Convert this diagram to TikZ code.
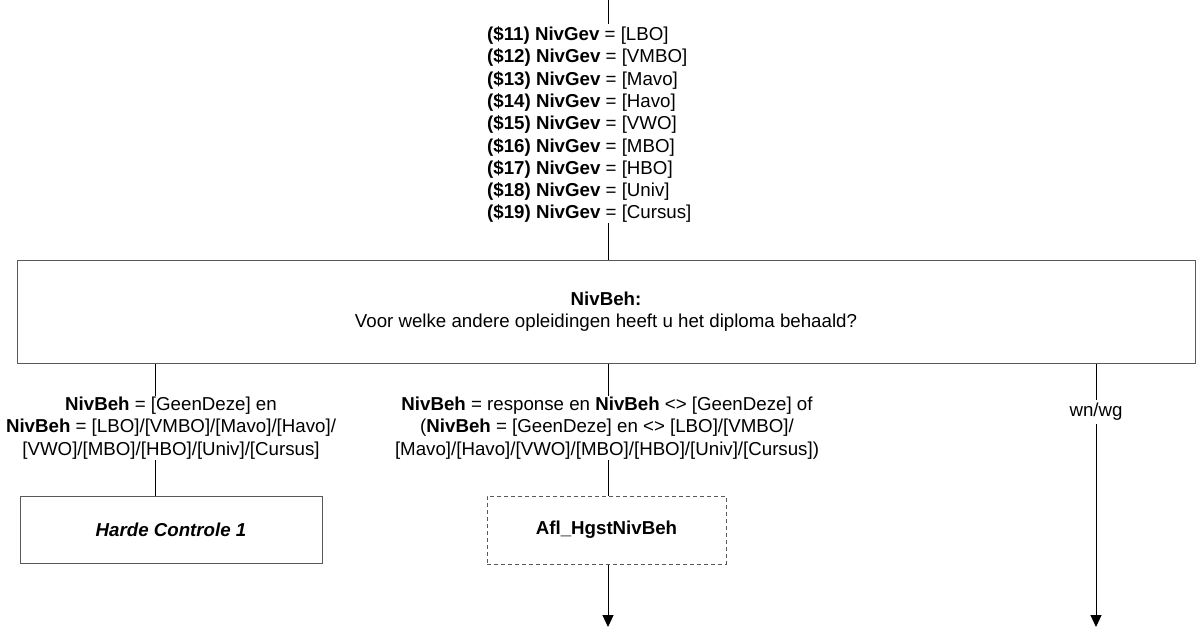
\documentclass[tikz,border=0pt]{standalone}
\usepackage{fontspec}
\setmainfont{Liberation Sans}
\usetikzlibrary{arrows.meta}
\begin{document}
\begin{tikzpicture}[x=1pt,y=-1pt,
  every node/.style={font=\fontsize{18.7}{22.3}\selectfont},
  txt/.style={inner sep=1pt,align=center},
  qbox/.style={draw=black!65,line width=1pt,rectangle,align=center,inner sep=0pt},
  dbox/.style={qbox,dash pattern=on 4pt off 3pt},
  conn/.style={draw=black,line width=1pt},
  arr/.style={conn,-{Triangle[length=12pt,width=11pt]}}]
\useasboundingbox (0,0) rectangle (1196,630);

\coordinate (t0) at (608,0);
\coordinate (lx) at (155,0);
\coordinate (rx) at (1096,0);

\node[inner sep=0pt,align=left,anchor=north west] (cond) at (487,26.5) {%
\textbf{(\$11) NivGev} = [LBO]\\
\textbf{(\$12) NivGev} = [VMBO]\\
\textbf{(\$13) NivGev} = [Mavo]\\
\textbf{(\$14) NivGev} = [Havo]\\
\textbf{(\$15) NivGev} = [VWO]\\
\textbf{(\$16) NivGev} = [MBO]\\
\textbf{(\$17) NivGev} = [HBO]\\
\textbf{(\$18) NivGev} = [Univ]\\
\textbf{(\$19) NivGev} = [Cursus]};

\node[qbox,minimum width=1178pt,minimum height=103pt] (q) at (606,311.5)
  {\textbf{NivBeh:}\\Voor welke andere opleidingen heeft u het diploma behaald?};

\node[txt] (l1) at (171,428)
  {\textbf{NivBeh} = [GeenDeze] en\\
   \textbf{NivBeh} = [LBO]/[VMBO]/[Mavo]/[Havo]/\\{}%
   [VWO]/[MBO]/[HBO]/[Univ]/[Cursus]};
\node[txt] (l2) at (607,428)
  {\textbf{NivBeh} = response en \textbf{NivBeh} <> [GeenDeze] of\\
   (\textbf{NivBeh} = [GeenDeze] en <> [LBO]/[VMBO]/\\{}%
   [Mavo]/[Havo]/[VWO]/[MBO]/[HBO]/[Univ]/[Cursus])};
\node[txt,inner sep=3pt] (l3) at (1096,412) {wn/wg};

\node[qbox,minimum width=302pt,minimum height=67pt] (hc) at (171,529.5)
  {\textbf{\textit{Harde Controle 1}}};
\node[dbox,minimum width=239pt,minimum height=68pt] (afl) at (606.5,530)
  {\textbf{Afl\_HgstNivBeh}};

\coordinate (e2) at (608,627);
\coordinate (e3) at (1096,627);

\draw[conn] (t0) -- ([yshift=3pt]cond.north -| t0);
\draw[conn] (cond.south -| t0) -- (q.north -| t0);

\draw[conn] (q.south -| lx) -- (l1.north -| lx);
\draw[conn] (l1.south -| lx) -- (hc.north -| lx);

\draw[conn] (q.south -| t0) -- (l2.north -| t0);
\draw[conn] (l2.south -| t0) -- (afl.north -| t0);
\draw[arr] (afl.south -| t0) -- (e2);

\draw[conn] (q.south -| rx) -- (l3.north);
\draw[arr] (l3.south) -- (e3);
\end{tikzpicture}
\end{document}
